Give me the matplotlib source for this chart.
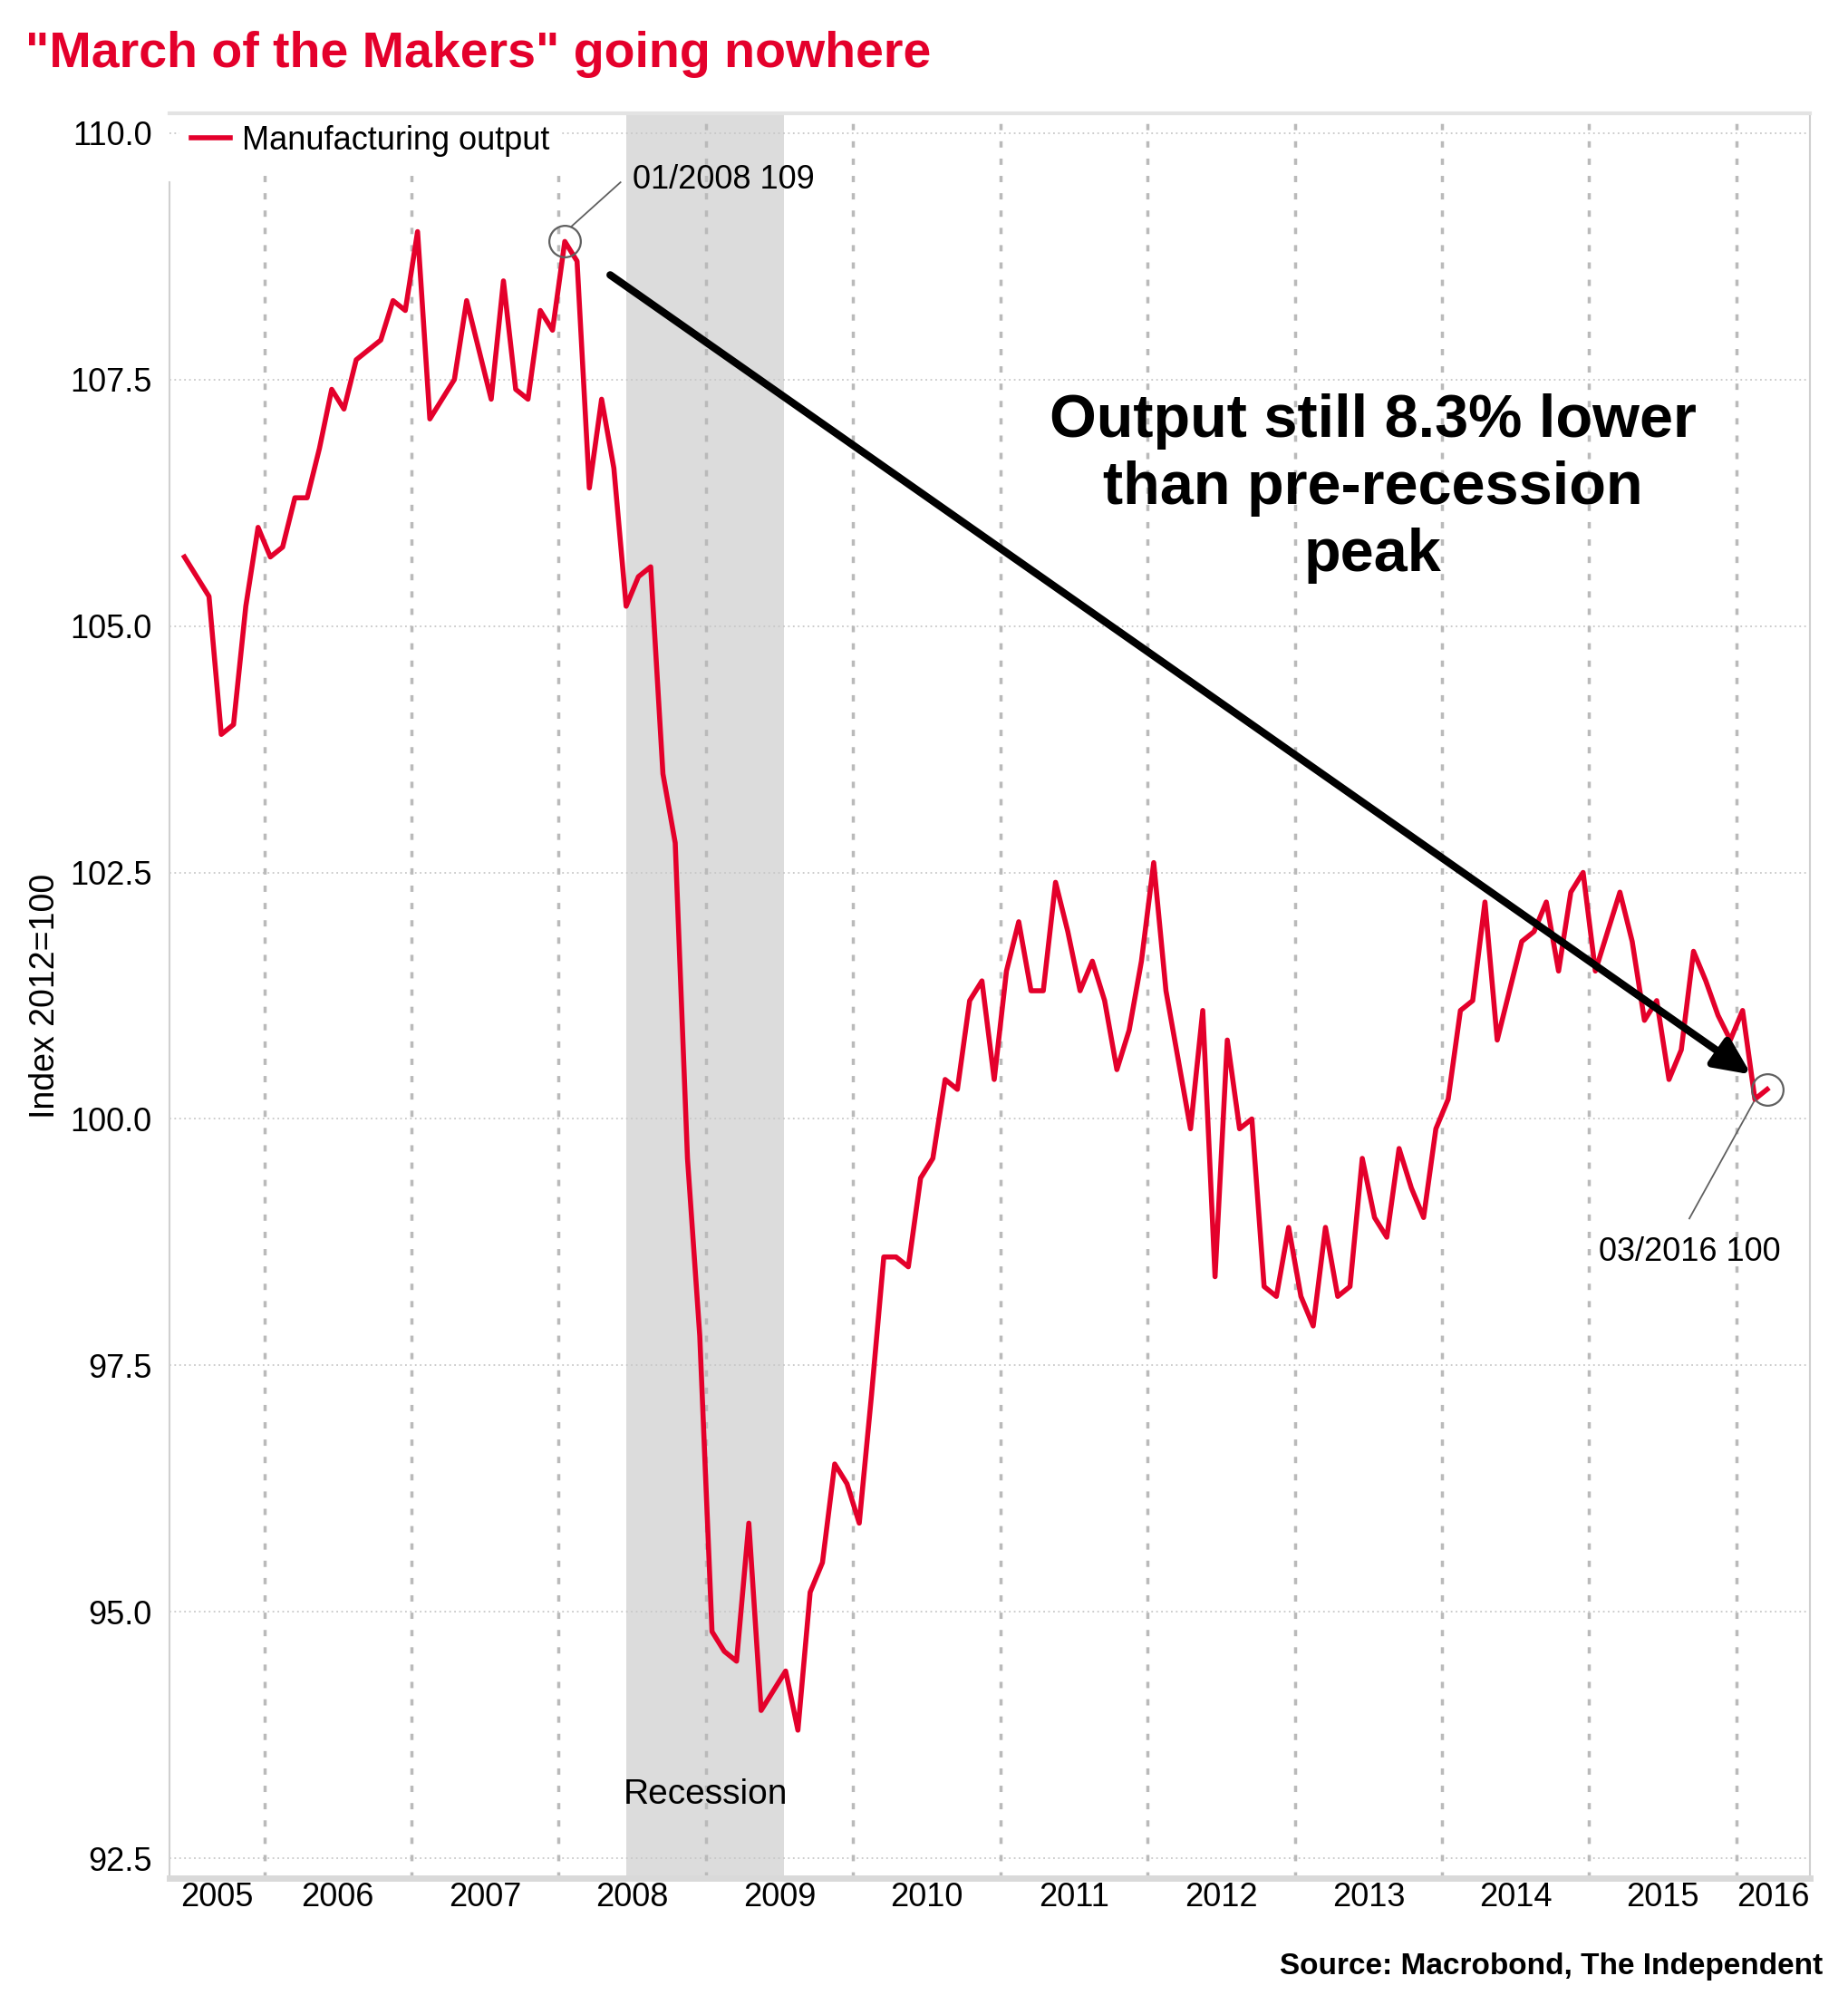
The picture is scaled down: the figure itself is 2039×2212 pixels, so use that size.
import matplotlib.pyplot as plt
import pandas as pd

plt.rcParams['font.family'] = ['Liberation Sans', 'DejaVu Sans']

# Monthly index, June 2005 to March 2016
start_month = "2005-06"
output = [
    105.7, 105.5, 105.3, 103.9, 104.0, 105.2, 106.0,
    105.7, 105.8, 106.3, 106.3, 106.8, 107.4, 107.2, 107.7, 107.8, 107.9, 108.3, 108.2,
    109.0, 107.1, 107.3, 107.5, 108.3, 107.8, 107.3, 108.5, 107.4, 107.3, 108.2, 108.0,
    108.9, 108.7, 106.4, 107.3, 106.6, 105.2, 105.5, 105.6, 103.5, 102.8, 99.6, 97.8,
    94.8, 94.6, 94.5, 95.9, 94.0, 94.2, 94.4, 93.8, 95.2, 95.5, 96.5, 96.3,
    95.9, 97.2, 98.6, 98.6, 98.5, 99.4, 99.6, 100.4, 100.3, 101.2, 101.4, 100.4,
    101.5, 102.0, 101.3, 101.3, 102.4, 101.9, 101.3, 101.6, 101.2, 100.5, 100.9, 101.6,
    102.6, 101.3, 100.6, 99.9, 101.1, 98.4, 100.8, 99.9, 100.0, 98.3, 98.2, 98.9,
    98.2, 97.9, 98.9, 98.2, 98.3, 99.6, 99.0, 98.8, 99.7, 99.3, 99.0, 99.9,
    100.2, 101.1, 101.2, 102.2, 100.8, 101.3, 101.8, 101.9, 102.2, 101.5, 102.3, 102.5,
    101.5, 101.9, 102.3, 101.8, 101.0, 101.2, 100.4, 100.7, 101.7, 101.4, 101.05, 100.8,
    101.1, 100.2, 100.3,
]
years = list(range(2005, 2017))
y_ticks = [92.5, 95.0, 97.5, 100.0, 102.5, 105.0, 107.5, 110.0]
recession = (2008.46, 2009.53)
peak_label = "01/2008 109"
last_label = "03/2016 100"
peak_idx = 31   # January 2008
red = "#e4002b"

dates = pd.date_range(start_month, periods=len(output), freq="MS")
x = [d.year + (d.month - 0.5) / 12 for d in dates]

fig = plt.figure(figsize=(20.4, 22.12), dpi=100)
ax = fig.add_axes([0.0917, 0.0633, 0.8873, 0.8802])
xmin, xmax = 2005.357, 2016.5
ax.set_xlim(xmin, xmax)
ax.set_ylim(92.3, 110.2)

ax.axvspan(recession[0], recession[1], color="#dcdcdc", zorder=0, lw=0)
ax.text(sum(recession) / 2, 93.15, "Recession", ha="center", va="center", fontsize=28)

ax.plot(x, output, color=red, lw=4, label="Manufacturing output", zorder=3)

# grid
ax.set_yticks(y_ticks)
ax.set_yticklabels([f"{v:.1f}" for v in y_ticks])
for v in y_ticks:
    ax.axhline(v, color="#c8c8c8", lw=1.3, ls=(0, (1, 2)), zorder=1)
for yr in years[1:]:
    ax.axvline(yr, color="#bababa", lw=2.5, ls=(0, (2, 3.5)), zorder=1)

ax.set_xticks([])
centers = [(max(yr, xmin) + min(yr + 1, xmax)) / 2 for yr in years]
ax.set_xticks(centers, minor=True)
ax.set_xticklabels([str(yr) for yr in years], minor=True)
ax.tick_params(axis="both", which="both", length=0, labelsize=26)
ax.tick_params(axis="y", pad=14)
ax.tick_params(axis="x", which="minor", pad=3)

for s in ["left", "right"]:
    ax.spines[s].set_color("#d0d0d0")
    ax.spines[s].set_linewidth(1.5)
ax.spines["left"].set_bounds(92.3, 109.5)
ax.spines["top"].set_color("#e3e3e3")
ax.spines["top"].set_linewidth(3)
ax.spines["bottom"].set_color("#d9d9d9")
ax.spines["bottom"].set_linewidth(5)

ax.set_ylabel("Index 2012=100", fontsize=27)
ax.yaxis.set_label_coords(-0.0656, 0.5)

leg = ax.legend(loc="upper left", bbox_to_anchor=(0.006, 1.0), borderaxespad=0,
                fontsize=26, frameon=True, handlelength=1.2, handletextpad=0.35,
                borderpad=0.36)
leg.get_frame().set_facecolor("white")
leg.get_frame().set_edgecolor("none")
leg.get_frame().set_alpha(1)
leg.get_frame().set_boxstyle("square", pad=0)
leg.set_zorder(2)

# circled points and labels
for i in (peak_idx, len(output) - 1):
    ax.plot(x[i], output[i], marker="o", ms=25, mfc="none", mec="#606060", mew=1.6, zorder=4)
ax.plot([2008.085, 2008.42], [109.05, 109.5], color="#606060", lw=1.3)
ax.text(2008.5, 109.52, peak_label, ha="left", va="center", fontsize=26)
ax.plot([2016.12, 2015.68], [100.18, 98.99], color="#606060", lw=1.3)
ax.text(2015.68, 98.65, last_label, ha="center", va="center", fontsize=26)

ax.annotate("", xy=(2016.1, 100.45), xytext=(2008.35, 108.56),
            arrowprops=dict(arrowstyle="-|>,head_length=0.6,head_width=0.28", lw=6,
                            color="black", mutation_scale=40, shrinkA=0, shrinkB=0),
            zorder=4)
ax.text(2013.53, 106.39, "Output still 8.3% lower\nthan pre-recession\npeak",
        ha="center", va="center", fontsize=48, fontweight="bold", linespacing=1.25)

fig.text(0.0137, 0.9666, '"March of the Makers" going nowhere', color=red,
         fontsize=40, fontweight="bold", ha="left", va="baseline")
fig.text(0.986, 0.0154, "Source: Macrobond, The Independent", fontsize=24,
         fontweight="bold", ha="right", va="baseline")

fig.savefig("out.png", dpi=100)
